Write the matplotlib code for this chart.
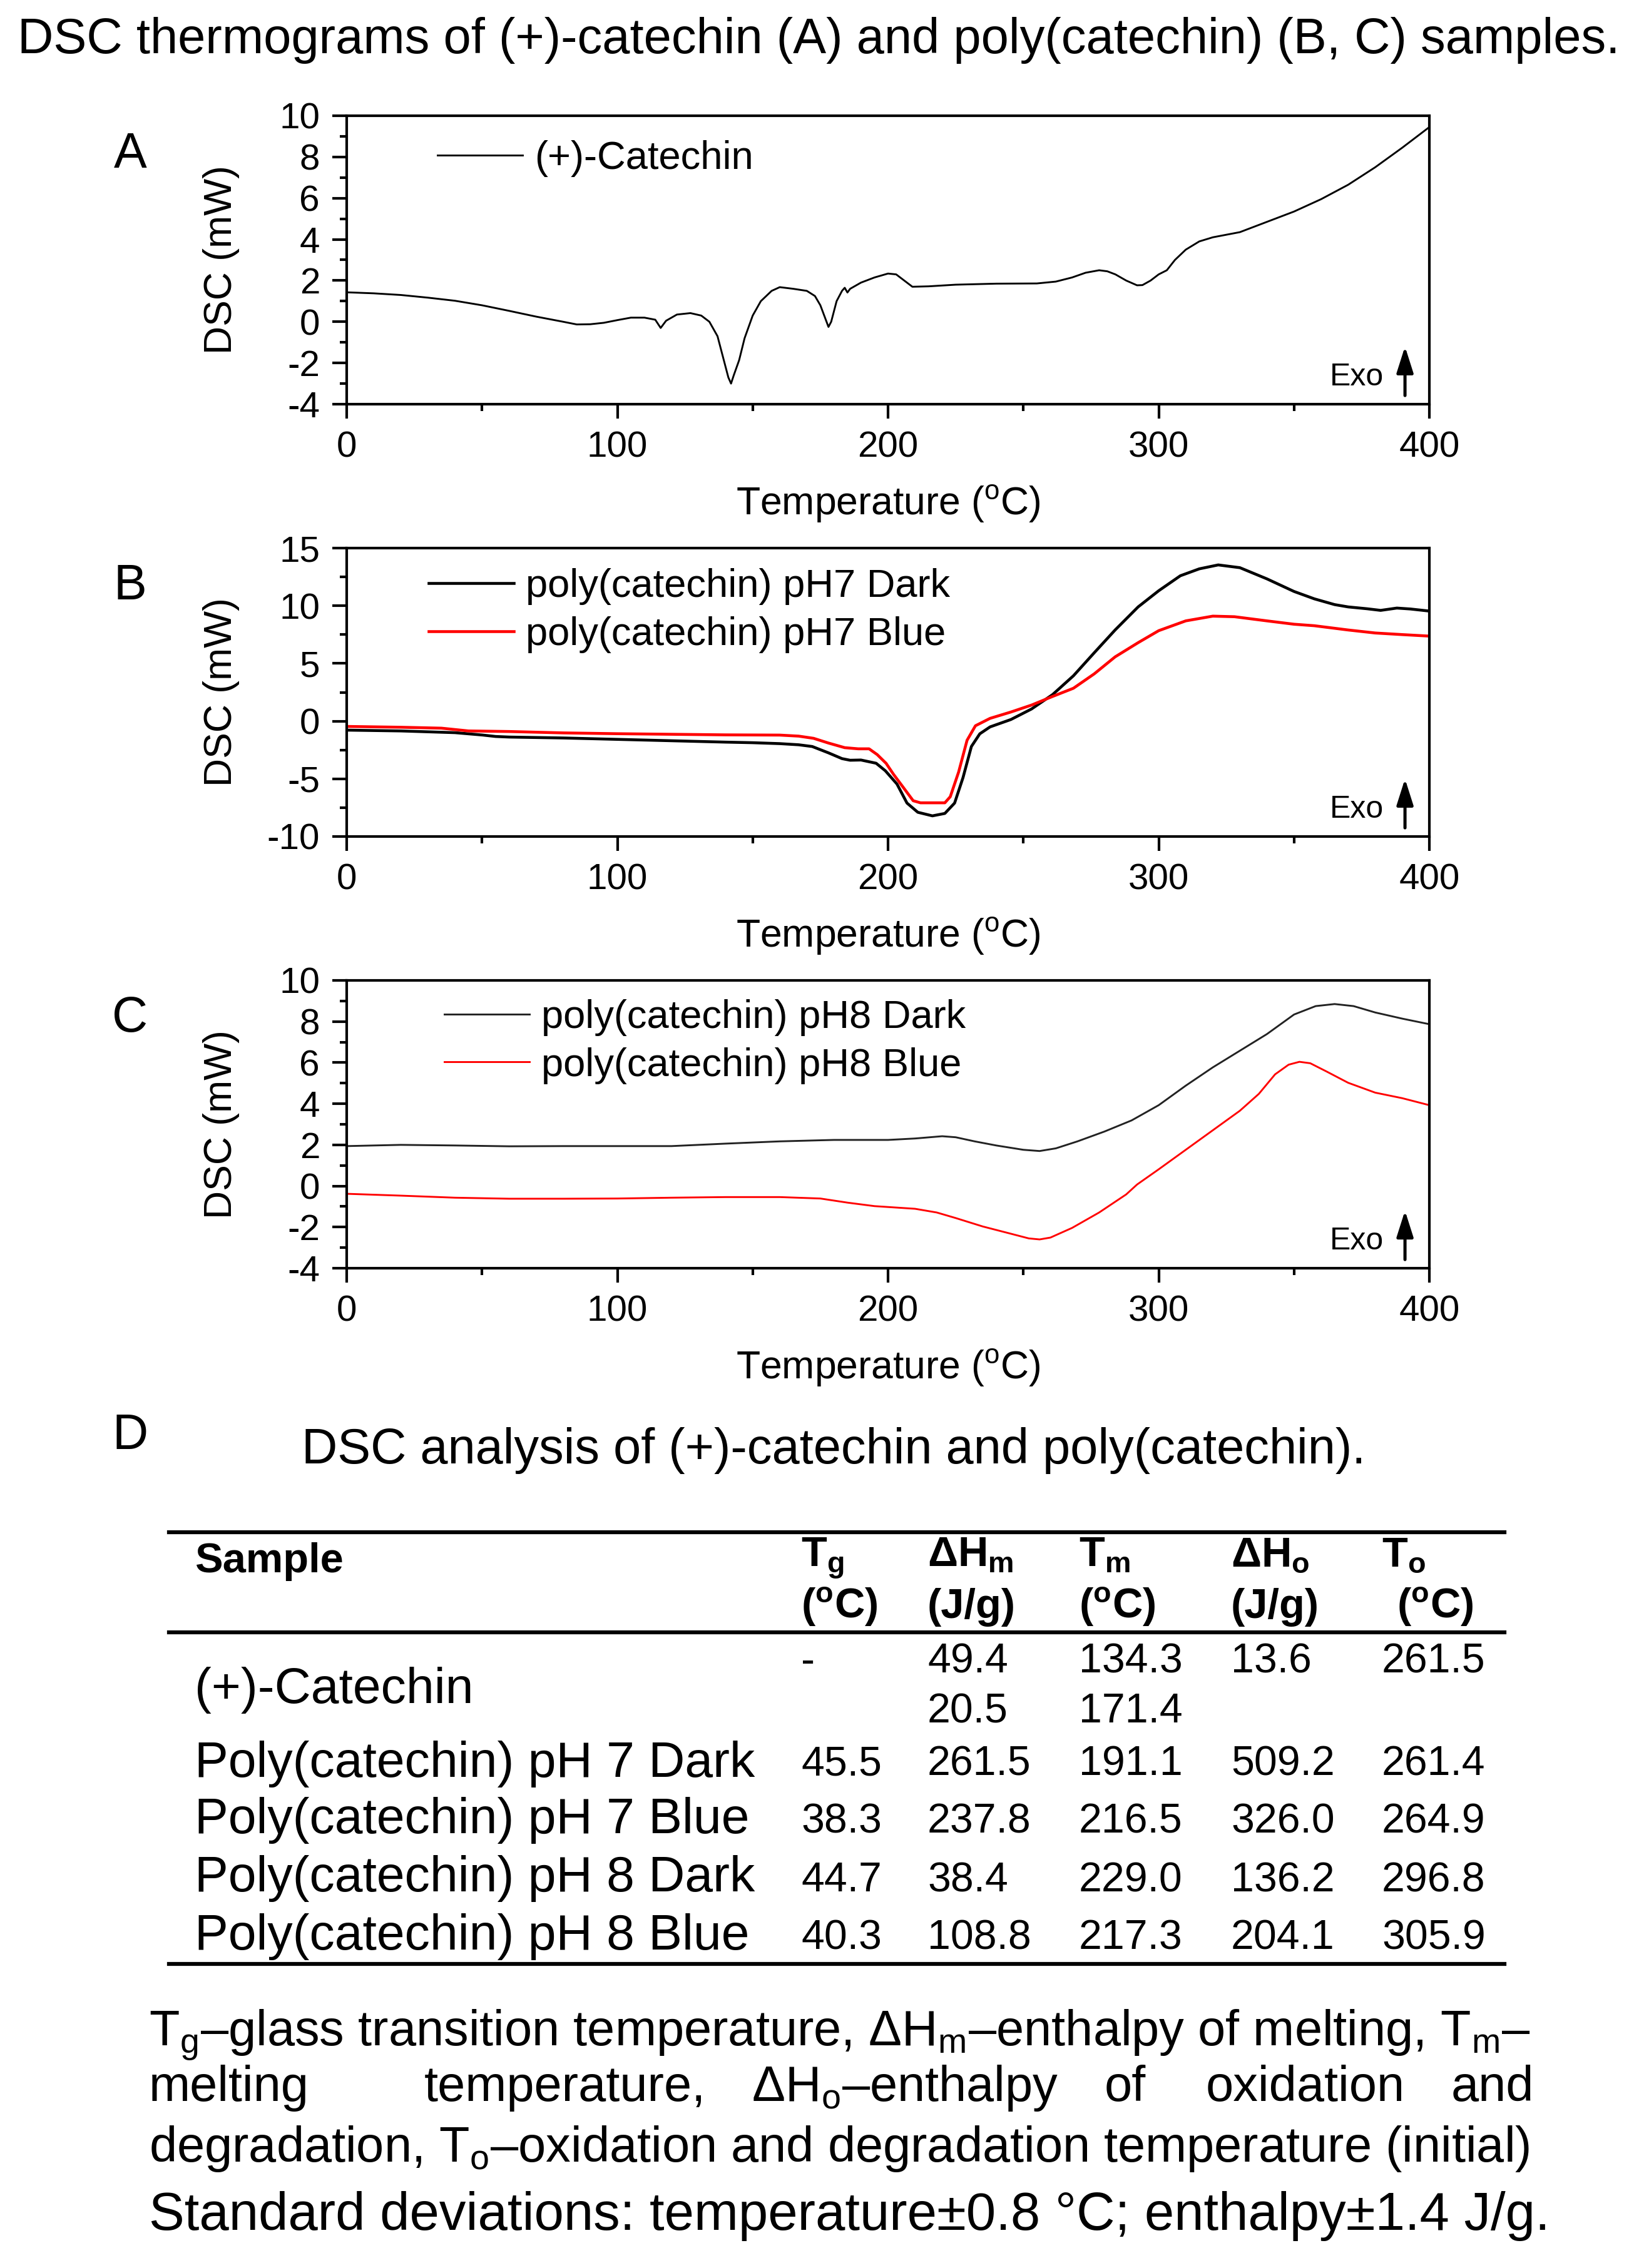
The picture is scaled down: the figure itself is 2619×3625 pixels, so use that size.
import matplotlib
matplotlib.use('Agg')
import matplotlib.pyplot as plt
from matplotlib.lines import Line2D
import numpy as np

plt.rcParams['font.family'] = ['Liberation Sans', 'DejaVu Sans']
plt.rcParams['mathtext.fontset'] = 'custom'
plt.rcParams['mathtext.rm'] = 'Liberation Sans'
plt.rcParams['mathtext.it'] = 'Liberation Sans:italic'
plt.rcParams['mathtext.bf'] = 'Liberation Sans:bold'
plt.rcParams['axes.unicode_minus'] = False

# ---- panel A: (+)-catechin
T_A = [0, 10, 20, 30, 40, 50, 60, 70, 80, 85, 90, 95, 100, 105, 110, 114, 116, 118, 122, 127,
       131, 134, 137, 139, 141, 142, 143, 145, 147, 150, 153, 157, 160, 165, 170, 173, 175, 177,
       178, 179, 181, 183, 184, 185, 186, 190, 195, 200, 203, 206, 209, 215, 225, 240, 255, 262,
       268, 273, 278, 281, 284, 288, 292, 294, 297, 300, 303, 306, 310, 315, 320, 330, 340, 350,
       360, 370, 380, 390, 400]
DSC_A = [1.43, 1.38, 1.3, 1.17, 1.02, 0.8, 0.53, 0.25, 0.0, -0.13, -0.12, -0.05, 0.08, 0.2, 0.2,
         0.1, -0.3, 0.05, 0.35, 0.42, 0.3, 0.0, -0.7, -1.7, -2.7, -3.0, -2.6, -1.86, -0.8, 0.3,
         1.0, 1.5, 1.68, 1.6, 1.5, 1.25, 0.8, 0.1, -0.25, 0.0, 1.0, 1.5, 1.65, 1.42, 1.6, 1.9,
         2.15, 2.34, 2.3, 2.0, 1.7, 1.72, 1.8, 1.85, 1.86, 1.95, 2.15, 2.38, 2.5, 2.45, 2.3, 2.0,
         1.77, 1.78, 2.0, 2.3, 2.5, 3.0, 3.5, 3.9, 4.1, 4.35, 4.85, 5.35, 5.95, 6.65, 7.5, 8.45,
         9.45]

# ---- panel B: pH 7
T_B_dark = [0, 20, 40, 50, 55, 60, 80, 100, 120, 140, 150, 160, 167, 172, 178, 183, 186, 190,
            195.6, 199, 203.3, 207, 211, 216.4, 221, 224.6, 227.7, 230.8, 233.9, 237.7, 245.4,
            253, 260.8, 268.5, 276.2, 283.9, 292.4, 300, 308, 315, 322, 330, 340, 350, 357.5,
            365, 370, 377, 382, 388, 393, 400]
DSC_B_dark = [-0.78, -0.85, -1.0, -1.2, -1.33, -1.38, -1.46, -1.58, -1.7, -1.82, -1.87, -1.95,
              -2.05, -2.2, -2.75, -3.25, -3.39, -3.37, -3.65, -4.3, -5.45, -7.1, -7.9, -8.21,
              -8.0, -7.1, -4.9, -2.2, -1.1, -0.5, 0.14, 1.05, 2.3, 3.93, 5.93, 7.9, 9.9, 11.3,
              12.6, 13.2, 13.54, 13.3, 12.33, 11.24, 10.6, 10.1, 9.9, 9.74, 9.6, 9.8, 9.72, 9.54]
T_B_blue = [0, 20, 35, 45, 60, 80, 100, 120, 140, 160, 167, 172.5, 178, 184, 189, 193, 196,
            199.3, 202, 204.7, 209.3, 212, 216, 221, 223, 226.1, 229.2, 232.3, 237.7, 245.4,
            253, 260.8, 268.5, 276.2, 283.9, 292.4, 300, 310, 320, 328, 340, 350, 357.5, 370,
            380, 390, 400]
DSC_B_blue = [-0.46, -0.53, -0.61, -0.85, -0.9, -1.02, -1.09, -1.14, -1.19, -1.21, -1.3, -1.49,
              -1.9, -2.3, -2.4, -2.4, -2.9, -3.66, -4.6, -5.45, -6.9, -7.08, -7.08, -7.08, -6.55,
              -4.4, -1.66, -0.4, 0.24, 0.79, 1.39, 2.14, 2.85, 4.1, 5.57, 6.8, 7.84, 8.69, 9.1,
              9.05, 8.69, 8.4, 8.27, 7.9, 7.64, 7.5, 7.37]

# ---- panel C: pH 8
T_C_dark = [0, 20, 40, 60, 80, 100, 120, 140, 160, 180, 200, 210, 220, 225, 232, 240, 250, 256,
            262, 270, 280, 290, 300, 310, 320, 330, 340, 350, 358, 365, 372, 380, 390, 400]
DSC_C_dark = [1.94, 2.0, 1.97, 1.93, 1.94, 1.94, 1.94, 2.06, 2.17, 2.24, 2.24, 2.31, 2.42, 2.37,
              2.17, 1.97, 1.76, 1.7, 1.83, 2.17, 2.65, 3.19, 3.93, 4.88, 5.77, 6.58, 7.39, 8.34,
              8.75, 8.85, 8.75, 8.44, 8.14, 7.87]
T_C_blue = [0, 20, 40, 60, 80, 100, 120, 140, 160, 175, 185, 195, 210, 218, 225, 235, 245, 252,
            256, 260, 268, 278, 288, 292, 300, 310, 320, 330, 337, 343, 348, 352, 356, 362, 370,
            380, 390, 400]
DSC_C_blue = [-0.38, -0.47, -0.57, -0.62, -0.62, -0.61, -0.57, -0.54, -0.54, -0.61, -0.81, -0.98,
              -1.11, -1.29, -1.56, -1.97, -2.31, -2.55, -2.6, -2.51, -2.04, -1.29, -0.41, 0.07,
              0.81, 1.76, 2.71, 3.66, 4.48, 5.43, 5.9, 6.04, 5.97, 5.57, 5.02, 4.54, 4.27, 3.93]

# ---- table D
samples = ['Poly(catechin) pH 7 Dark', 'Poly(catechin) pH 7 Blue',
           'Poly(catechin) pH 8 Dark', 'Poly(catechin) pH 8 Blue']
Tg = ['45.5', '38.3', '44.7', '40.3']
dHm = ['261.5', '237.8', '38.4', '108.8']
Tm = ['191.1', '216.5', '229.0', '217.3']
dHo = ['509.2', '326.0', '136.2', '204.1']
To = ['261.4', '264.9', '296.8', '305.9']
cat_name = '(+)-Catechin'
cat_row1 = ['-', '49.4', '134.3', '13.6', '261.5']
cat_row2 = ['', '20.5', '171.4', '', '']

W, H = 2619, 3625
fig = plt.figure(figsize=(W / 300, H / 300), dpi=300)


def fx(x):
    return x / W


def fy(y):
    return 1 - y / H


def fit(t, width):
    r = fig.canvas.get_renderer()
    w = t.get_window_extent(r).width
    t.set_fontsize(t.get_fontsize() * width / w)
    return t.get_fontsize()


panels = [
    dict(top=185, bot=646, ylim=(-4, 10), major=2, minor=1, letter='A', lw=0.7,
         curves=[(T_A, DSC_A, 'k', '(+)-Catechin')], leg=(0.0838, 0.915)),
    dict(top=876, bot=1337, ylim=(-10, 15), major=5, minor=2.5, letter='B', lw=1.1,
         curves=[(T_B_dark, DSC_B_dark, 'k', 'poly(catechin) pH7 Dark'),
                 (T_B_blue, DSC_B_blue, 'red', 'poly(catechin) pH7 Blue')], leg=(0.0757, 0.93)),
    dict(top=1567, bot=2027, ylim=(-4, 10), major=2, minor=1, letter='C', lw=0.7,
         curves=[(T_C_dark, DSC_C_dark, '#222222', 'poly(catechin) pH8 Dark'),
                 (T_C_blue, DSC_C_blue, 'red', 'poly(catechin) pH8 Blue')], leg=(0.090, 0.935)),
]

for p in panels:
    ax = fig.add_axes([fx(554), fy(p['bot']), (2284 - 554) / W, (p['bot'] - p['top']) / H])
    for t, d, c, lab in p['curves']:
        ax.plot(t, d, color=c, lw=p['lw'], label=lab)
    y0, y1 = p['ylim']
    ax.set_xlim(0, 400)
    ax.set_ylim(y0, y1)
    ax.set_xticks(np.arange(0, 401, 100))
    ax.set_xticks(np.arange(50, 400, 100), minor=True)
    ax.set_yticks(np.arange(y0, y1 + 0.01, p['major']))
    ax.set_yticks(np.arange(y0, y1 + 0.01, p['minor']), minor=True)
    ax.tick_params(which='major', direction='out', length=5.5, width=1.0, labelsize=14, pad=4.8)
    ax.tick_params(which='minor', direction='out', length=2.6, width=1.0)
    for s in ax.spines.values():
        s.set_linewidth(1.0)
    ax.set_xlabel('Temperature ($^\\mathrm{o}$C)', fontsize=15)
    ax.set_ylabel('DSC (mW)', fontsize=15)
    ax.xaxis.set_label_coords(0.5, -0.277)
    ax.yaxis.set_label_coords(-0.099, 0.5)
    ax.legend(loc='upper left', bbox_to_anchor=p['leg'], frameon=False, fontsize=15.2,
              handlelength=2.15, handletextpad=0.3, borderpad=0, borderaxespad=0,
              labelspacing=0.28)
    ax.annotate('', xy=(0.9775, 0.2), xytext=(0.9775, 0.03), xycoords='axes fraction',
                arrowprops=dict(arrowstyle='-|>,head_length=0.85,head_width=0.27', lw=1.2,
                                color='k', shrinkA=0, shrinkB=0))
    ax.text(0.958, 0.065, 'Exo', transform=ax.transAxes, ha='right', va='baseline', fontsize=12)
    fig.text(fx(208), fy((p['top'] + 62)), p['letter'], ha='center', va='center', fontsize=19)

# title
t = fig.text(fx(1308), fy(65), 'DSC thermograms of (+)-catechin (A) and poly(catechin) (B, C) samples.',
             ha='center', va='center', fontsize=15)
fit(t, 2561)

# ---- table
fig.text(fx(208), fy(2296), 'D', ha='center', va='center', fontsize=19)
t = fig.text(fx(1332), fy(2318), 'DSC analysis of (+)-catechin and poly(catechin).',
             ha='center', va='center', fontsize=15)
fit(t, 1701)

for yl in [2449, 2609, 3139]:
    fig.add_artist(Line2D([fx(270), fx(2404)], [fy(yl), fy(yl)], lw=1.5, color='k'))

col_x = [1280, 1482, 1724, 1967, 2208]
t = fig.text(fx(311), fy(2513), 'Sample', ha='left', va='baseline', fontsize=16, fontweight='bold')
hfs = fit(t, 238)
head1 = ['T$_\\mathbf{g}$', '\u0394H$_\\mathbf{m}$', 'T$_\\mathbf{m}$', '\u0394H$_\\mathbf{o}$',
         'T$_\\mathbf{o}$']
head2 = ['($^\\mathbf{o}$C)', '(J/g)', '($^\\mathbf{o}$C)', '(J/g)', '($^\\mathbf{o}$C)']
for i, x in enumerate(col_x):
    fig.text(fx(x), fy(2503), head1[i], ha='left', va='baseline', fontsize=hfs, fontweight='bold')
    fig.text(fx(x + (24 if i == 4 else 0)), fy(2586), head2[i], ha='left', va='baseline',
             fontsize=hfs, fontweight='bold')

t = fig.text(fx(311), fy(2840), samples[0], ha='left', va='baseline', fontsize=19)
nfs = fit(t, 895)
t = fig.text(fx(1482), fy(2674), '261.5', ha='left', va='baseline', fontsize=16, alpha=0)
vfs = fit(t, 166)

fig.text(fx(311), fy(2722), cat_name, ha='left', va='baseline', fontsize=nfs)
for i, x in enumerate(col_x):
    fig.text(fx(x), fy(2674), cat_row1[i], ha='left', va='baseline', fontsize=vfs)
    fig.text(fx(x), fy(2753), cat_row2[i], ha='left', va='baseline', fontsize=vfs)

row_y = [2838, 2930, 3023, 3116]
for j, name in enumerate(samples):
    if j > 0:
        fig.text(fx(311), fy(row_y[j]), name, ha='left', va='baseline', fontsize=nfs)
    for x, col in zip(col_x, [Tg, dHm, Tm, dHo, To]):
        fig.text(fx(x), fy(row_y[j]), col[j], ha='left', va='baseline', fontsize=vfs)

# ---- footnote
t = fig.text(fx(238), fy(3455),
             'degradation, T$_\\mathrm{o}$\u2013oxidation and degradation temperature (initial)',
             ha='left', va='baseline', fontsize=16)
ffs = fit(t, 2206)
fig.text(fx(238), fy(3269),
         'T$_\\mathrm{g}$\u2013glass transition temperature, \u0394H$_\\mathrm{m}$\u2013enthalpy of melting, T$_\\mathrm{m}$\u2013',
         ha='left', va='baseline', fontsize=ffs)

# justified second line: measure words, spread the gaps
words2 = ['melting', 'temperature,', '\u0394H$_\\mathrm{o}$\u2013enthalpy', 'of', 'oxidation', 'and']
gap_w = [2.5, 1, 1, 1.3, 1]
r = fig.canvas.get_renderer()
wts = [fig.text(0, 0, w, fontsize=ffs, alpha=0) for w in words2]
widths = [tt.get_window_extent(r).width for tt in wts]
for tt in wts:
    tt.remove()
free = (2451 - 238) - sum(widths)
unit = free / sum(gap_w)
x = 238
for i, w in enumerate(words2):
    fig.text(fx(x), fy(3358), w, ha='left', va='baseline', fontsize=ffs)
    if i < len(gap_w):
        x += widths[i] + gap_w[i] * unit

t = fig.text(fx(238), fy(3564), 'Standard deviations: temperature\u00b10.8 \u00b0C; enthalpy\u00b11.4 J/g.',
             ha='left', va='baseline', fontsize=16)
fit(t, 2238)

fig.savefig('out.png', dpi=300)
